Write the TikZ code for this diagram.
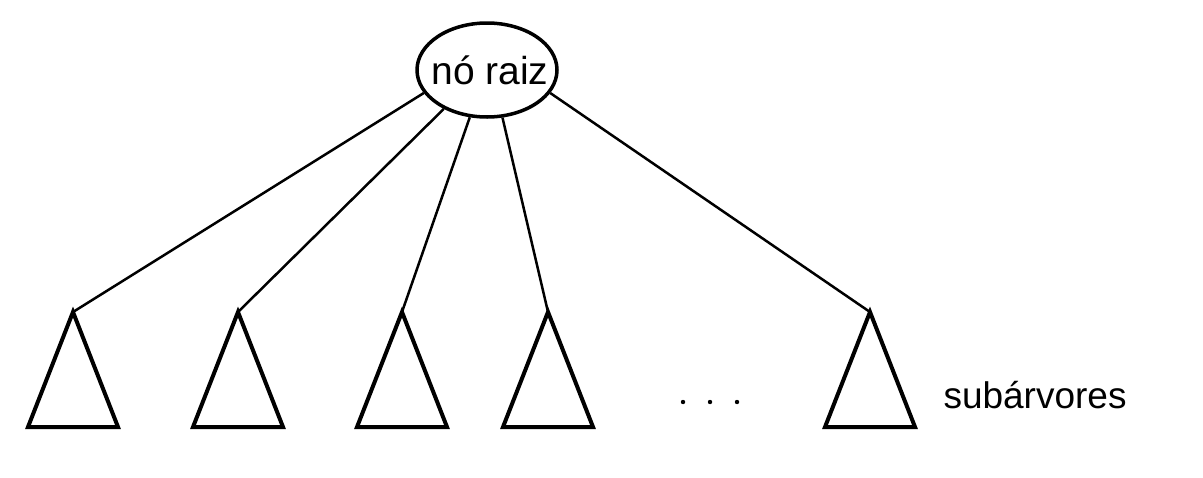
\documentclass[tikz,border=0pt]{standalone}
\usepackage{fontspec}
\setmainfont{Liberation Sans}
\usetikzlibrary{shapes.geometric}
\begin{document}
\begin{tikzpicture}[x=0.5pt,y=-0.5pt,rn/.style={draw,ellipse,line width=1.75pt,minimum
					width=70pt,minimum height=47pt,inner sep=0pt,font=\fontsize{19.5}{22}\selectfont},st/.style={draw,line
					width=2pt},ed/.style={line width=1.25pt}]
		\useasboundingbox (0,0) rectangle (1203,477);
		\node[rn] (root) at (487,70) {\makebox[0pt]{\hspace{3pt}nó raiz}};
		\foreach \n/\x in {1/73,2/238,3/402,4/548,5/870}
			{\coordinate (t\n) at (\x,312);
			\draw[st] (t\n) -- ++(-45,115) -- ++(90,0) -- cycle;}
		\draw[ed] (root.200) -- (t1);
		\draw[ed] (root.222) -- (t2);
		\draw[ed] (root.250) -- (t3);
		\draw[ed] (root.288) -- (t4);
		\draw[ed] (root.340) -- (t5);
		\foreach \x in {683,710,737}
			\fill (\x,402) circle (1.1pt);
		\node[anchor=base,font=\fontsize{18.5}{22}\selectfont] (sub) at (1035,408) {subárvores};
	\end{tikzpicture}
\end{document}
